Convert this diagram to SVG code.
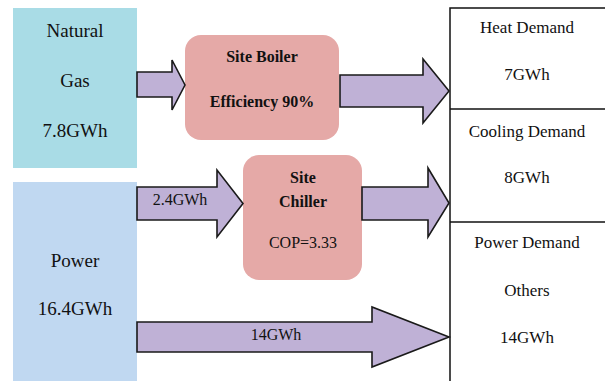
<svg xmlns="http://www.w3.org/2000/svg" width="605" height="381" viewBox="0 0 605 381">
<rect width="605" height="381" fill="#fff"/>
<g id="natural-gas">
<rect x="13" y="8" width="124" height="160" fill="#a9dce6"/>
<text x="75" y="37" font-family="Times New Roman" font-size="19" fill="#111" text-anchor="middle">Natural</text>
<text x="75" y="87" font-family="Times New Roman" font-size="19" fill="#111" text-anchor="middle">Gas</text>
<text x="75" y="137" font-family="Times New Roman" font-size="19" fill="#111" text-anchor="middle">7.8GWh</text>
</g>
<g id="power">
<rect x="13" y="182" width="124" height="210" fill="#c0d8f1"/>
<text x="75" y="267" font-family="Times New Roman" font-size="19" fill="#111" text-anchor="middle">Power</text>
<text x="75" y="315" font-family="Times New Roman" font-size="19" fill="#111" text-anchor="middle">16.4GWh</text>
</g>
<g id="site-boiler">
<rect x="185" y="35" width="154" height="105" rx="16" fill="#e5a9a7"/>
<text x="262" y="62" font-family="Times New Roman" font-size="16" font-weight="bold" fill="#111" text-anchor="middle">Site Boiler</text>
<text x="262" y="107" font-family="Times New Roman" font-size="16" font-weight="bold" fill="#111" text-anchor="middle">Efficiency 90%</text>
</g>
<g id="site-chiller">
<rect x="243" y="155" width="119" height="125" rx="16" fill="#e5a9a7"/>
<text x="303" y="183" font-family="Times New Roman" font-size="16" font-weight="bold" fill="#111" text-anchor="middle">Site</text>
<text x="303" y="207" font-family="Times New Roman" font-size="16" font-weight="bold" fill="#111" text-anchor="middle">Chiller</text>
<text x="303" y="248" font-family="Times New Roman" font-size="16" fill="#111" text-anchor="middle">COP=3.33</text>
</g>
<g id="demands" fill="#fff" stroke="#111" stroke-width="1.5">
<rect x="450" y="8" width="170" height="400"/>
<line x1="450" y1="109" x2="610" y2="109"/>
<line x1="450" y1="222" x2="610" y2="222"/>
</g>
<g id="heat-demand">
<text x="527" y="33" font-family="Times New Roman" font-size="17" fill="#111" text-anchor="middle">Heat Demand</text>
<text x="527" y="80" font-family="Times New Roman" font-size="17" fill="#111" text-anchor="middle">7GWh</text>
</g>
<g id="cooling-demand">
<text x="527" y="137" font-family="Times New Roman" font-size="17" fill="#111" text-anchor="middle">Cooling Demand</text>
<text x="527" y="183" font-family="Times New Roman" font-size="17" fill="#111" text-anchor="middle">8GWh</text>
</g>
<g id="power-demand">
<text x="527" y="248" font-family="Times New Roman" font-size="17" fill="#111" text-anchor="middle">Power Demand</text>
<text x="527" y="296" font-family="Times New Roman" font-size="17" fill="#111" text-anchor="middle">Others</text>
<text x="527" y="343" font-family="Times New Roman" font-size="17" fill="#111" text-anchor="middle">14GWh</text>
</g>
<g id="connectors" fill="#bfb1d6" stroke="#1a1a1a" stroke-width="1.6">
<polygon points="137,72 172,72 172,60 185,85 172,110 172,97 137,97"/>
<polygon points="340,75 423,75 423,59 449,91 423,123 423,107 340,107"/>
<polygon points="137,187 217,187 217,170 243,203.5 217,237 217,220 137,220"/>
<polygon points="362,187 428,187 428,168 449,203 428,237 428,220 362,220"/>
<polygon points="137,322 372,322 372,307 449,337 372,367 372,352 137,352"/>
<text x="180" y="205" font-family="Times New Roman" font-size="16" fill="#111" stroke="none" text-anchor="middle">2.4GWh</text>
<text x="276" y="340" font-family="Times New Roman" font-size="16" fill="#111" stroke="none" text-anchor="middle">14GWh</text>
</g>
</svg>
